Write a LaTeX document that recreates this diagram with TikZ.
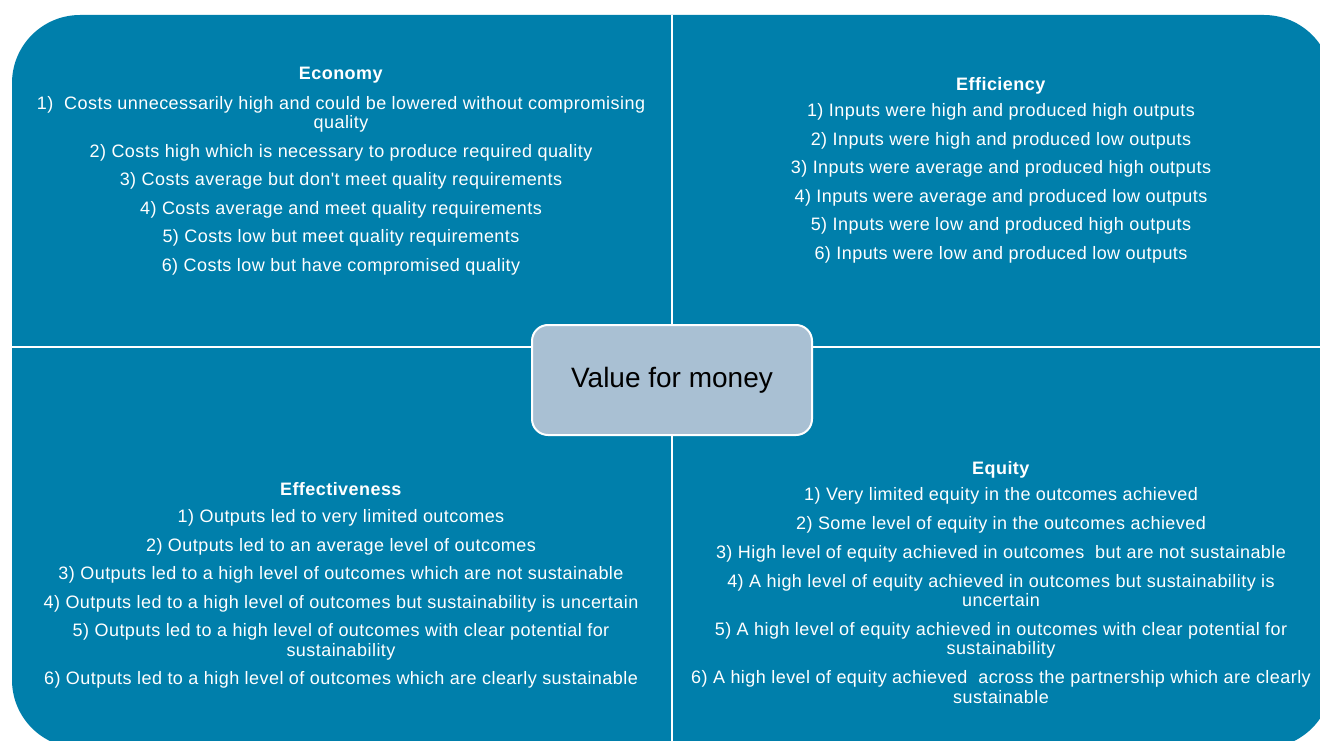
\documentclass[tikz,border=0pt]{standalone}
\usepackage{fontspec}
\setmainfont{Liberation Sans}
\newfontfamily\quadfont[LetterSpace=2.5]{Liberation Sans}
\usetikzlibrary{positioning}
\definecolor{quadblue}{RGB}{0,127,171}
\definecolor{centrefill}{RGB}{169,192,211}
\tikzset{
    x=1pt, y=-1pt, % one unit is one pixel of the layout
    quadtext/.style={text=white, align=center, inner sep=0pt, anchor=north, font=\quadfont\fontsize{18}{19.5}\selectfont}, % text of each quarter
    centrebox/.style={draw=white, line width=2pt, fill=centrefill, rounded corners=16pt, minimum width=280pt, minimum height=110pt, font=\fontsize{28}{32}\selectfont}, % the box in the middle
    divider/.style={white, line width=2pt}, % lines between the quarters
    }
\newcommand{\nextitem}{\\[9pt]}

\begin{document}
\begin{tikzpicture}

\useasboundingbox (0,0) rectangle (1320,741);
\begin{scope}
  \clip (0,0) rectangle (1320,741);
  \fill[quadblue, rounded corners=68pt] (12,15) rectangle (1332,748);
\end{scope}
\draw[divider] (672,15) -- (672,741);
\draw[divider] (12,347) -- (1320,347);

\node[quadtext] (econ) at (341,67) {\textbf{Economy}\\[10pt]
  1)~ Costs unnecessarily high and could be lowered without compromising\\ quality\nextitem
  2) Costs high which is necessary to produce required quality\nextitem
  3) Costs average but don't meet quality requirements\nextitem
  4) Costs average and meet quality requirements\nextitem
  5) Costs low but meet quality requirements\nextitem
  6) Costs low but have compromised quality};
\node[quadtext] (effic) at (1001,77) {\textbf{Efficiency}\\[7pt]
  1) Inputs were high and produced high outputs\nextitem
  2) Inputs were high and produced low outputs\nextitem
  3) Inputs were average and produced high outputs\nextitem
  4) Inputs were average and produced low outputs\nextitem
  5) Inputs were low and produced high outputs\nextitem
  6) Inputs were low and produced low outputs};
\node[quadtext] (effect) at (341,482) {\textbf{Effectiveness}\\[8pt]
  1) Outputs led to very limited outcomes\nextitem
  2) Outputs led to an average level of outcomes\nextitem
  3) Outputs led to a high level of outcomes which are not sustainable\nextitem
  4) Outputs led to a high level of outcomes but sustainability is uncertain\nextitem
  5) Outputs led to a high level of outcomes with clear potential for\\ sustainability\nextitem
  6) Outputs led to a high level of outcomes which are clearly sustainable};
\node[quadtext] (equity) at (1001,461) {\textbf{Equity}\\[7pt]
  1) Very limited equity in the outcomes achieved\\[9.3pt]
  2) Some level of equity in the outcomes achieved\\[9.3pt]
  3) High level of equity achieved in outcomes~ but are not sustainable\\[9.3pt]
  4) A high level of equity achieved in outcomes but sustainability is\\ uncertain\\[9.3pt]
  5) A high level of equity achieved in outcomes with clear potential for\\ sustainability\\[9.3pt]
  6) A high level of equity achieved~ across the partnership which are clearly\\ sustainable};

\node[centrebox] (vfm) at (672,380) {Value for money};

\end{tikzpicture}
\end{document}
